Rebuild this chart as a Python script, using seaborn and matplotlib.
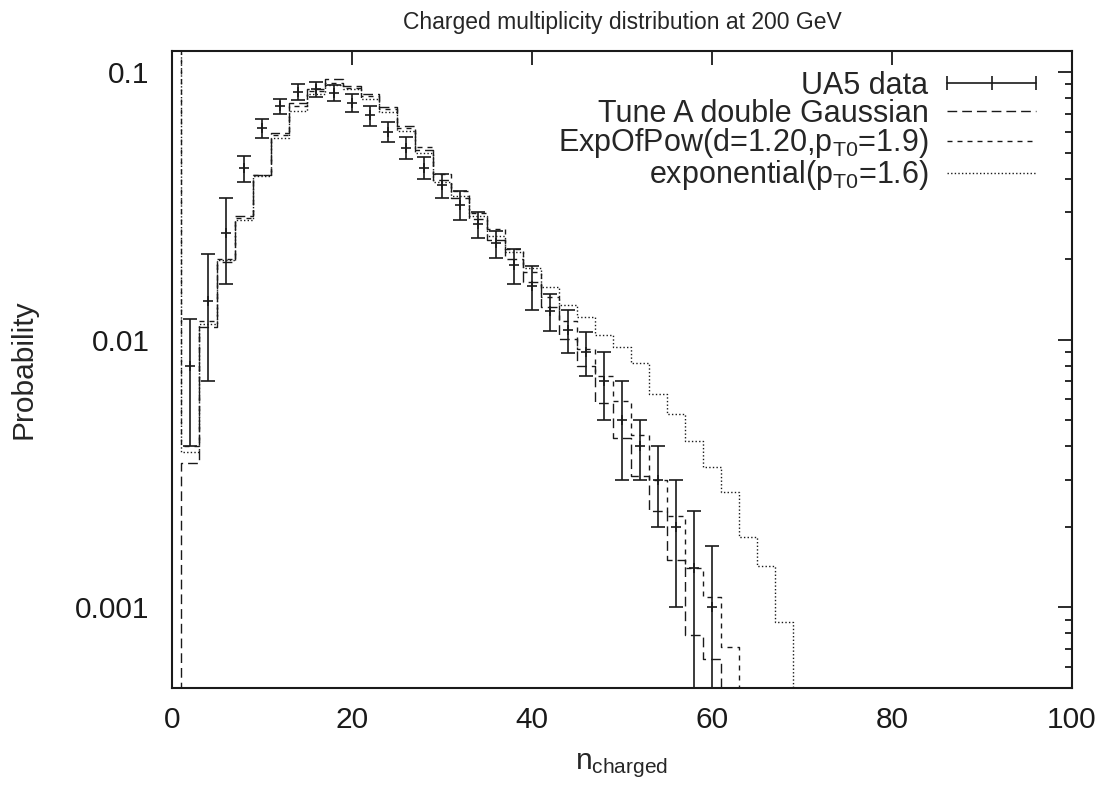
import matplotlib
matplotlib.use('Agg')
import matplotlib.pyplot as plt
import seaborn as sns
import pandas as pd
from matplotlib.lines import Line2D
from matplotlib.legend_handler import HandlerLine2D

# --- values ---
bins_n = list(range(0, 72, 2))

tune_a = [1e-6, 0.00345, 0.0112, 0.0196, 0.0289, 0.0414, 0.0590, 0.0769,
          0.0862, 0.0940, 0.0889, 0.0832, 0.0742, 0.0632, 0.0510, 0.0395,
          0.0339, 0.0282, 0.0237, 0.0200, 0.0165, 0.0133, 0.0101, 0.0080,
          0.0058, 0.0043, 0.0031, 0.0023, 0.0015, 0.00079, 0.00064, 1e-6,
          1e-6, 1e-6, 1e-6, 1e-6]

exp_of_pow = [1.0, 0.0040, 0.0118, 0.0201, 0.0285, 0.0412, 0.0580, 0.0750,
              0.0850, 0.0912, 0.0875, 0.0815, 0.0730, 0.0620, 0.0526, 0.0418,
              0.0359, 0.0298, 0.0259, 0.0219, 0.0179, 0.0145, 0.0118, 0.0092,
              0.0073, 0.0059, 0.0044, 0.0030, 0.0022, 0.0014, 0.00109, 0.00071,
              1e-6, 1e-6, 1e-6, 1e-6]

exponential = [1.0, 0.0038, 0.0115, 0.0198, 0.0281, 0.0410, 0.0566, 0.0716,
               0.0832, 0.0894, 0.0862, 0.0793, 0.0712, 0.0602, 0.0497, 0.0388,
               0.0345, 0.0290, 0.0245, 0.0212, 0.0185, 0.0158, 0.0135, 0.0122,
               0.0104, 0.0094, 0.0082, 0.0063, 0.0053, 0.0042, 0.00335, 0.0027,
               0.00184, 0.00143, 0.00088, 1e-6]

data_n = list(range(2, 62, 2))
data_p = [0.0080, 0.0140, 0.0250, 0.0439, 0.0616, 0.0746, 0.0844, 0.0866,
          0.0839, 0.0770, 0.0691, 0.0598, 0.0523, 0.0439, 0.0378, 0.0320,
          0.0270, 0.0229, 0.0190, 0.0159, 0.0128, 0.0109, 0.0090, 0.0070,
          0.0050, 0.0040, 0.0030, 0.0020, 0.0014, 0.0010]
data_err = [0.0040, 0.0070, 0.0088, 0.0049, 0.0050, 0.0048, 0.0059, 0.0056,
            0.0059, 0.0060, 0.0059, 0.0051, 0.0049, 0.0041, 0.0039, 0.0039,
            0.0029, 0.0027, 0.0029, 0.0030, 0.0020, 0.0020, 0.0017, 0.0020,
            0.0020, 0.0010, 0.0010, 0.0010, 0.0009, 0.0007]

labels = ['UA5 data', 'Tune A double Gaussian',
          r'ExpOfPow(d=1.20,$\mathrm{p_{T0}}$=1.9)',
          r'exponential($\mathrm{p_{T0}}$=1.6)']

# --- style ---
sns.set_theme(style='white')
plt.rcParams['font.family'] = ['Liberation Sans', 'DejaVu Sans']
plt.rcParams['mathtext.fontset'] = 'custom'
plt.rcParams['mathtext.rm'] = 'Liberation Sans'
plt.rcParams['mathtext.it'] = 'Liberation Sans'

TICK_FS = 21.5
LABEL_FS = 21.5
LEG_FS = 22
dash_tune = (0, (7, 3.6))
dash_eop = (0, (3.6, 3.6))
dash_exp = (0, (1, 1.6))

fig = plt.figure(figsize=(11.09, 7.94), dpi=100)
ax = fig.add_axes([0.1551, 0.1335, 0.8115, 0.8023])

models = pd.DataFrame({'n': bins_n, 'tune': tune_a, 'eop': exp_of_pow,
                       'exp': exponential})

sns.lineplot(data=models, x='n', y='tune', ax=ax, color='k', lw=1.0,
             drawstyle='steps-mid', linestyle=dash_tune)
sns.lineplot(data=models, x='n', y='eop', ax=ax, color='k', lw=1.0,
             drawstyle='steps-mid', linestyle=dash_eop)
sns.lineplot(data=models, x='n', y='exp', ax=ax, color='k', lw=1.0,
             drawstyle='steps-mid', linestyle=dash_exp)

ax.errorbar(data_n, data_p, yerr=data_err, fmt='+', color='k', ms=7,
            mew=1.2, elinewidth=1.2, capsize=4.8, capthick=1.2)

ax.set_yscale('log')
ax.set_xlim(0, 100)
ax.set_ylim(0.0005, 0.12)
ax.set_xticks([0, 20, 40, 60, 80, 100])
ax.set_yticks([0.001, 0.01, 0.1])
ax.set_yticklabels(['0.001', '0.01', '0.1'])

ax.tick_params(which='both', direction='in', top=True, right=True,
               colors='k', width=1.3)
ax.tick_params(which='major', length=10)
ax.tick_params(which='minor', length=5)
ax.tick_params(axis='x', which='major', labelsize=TICK_FS, pad=13)
ax.tick_params(axis='y', which='major', labelsize=TICK_FS, pad=16)
for sp in ax.spines.values():
    sp.set_color('k')
    sp.set_linewidth(1.5)

ax.set_xlabel(r'$\mathrm{n_{charged}}$', fontsize=LABEL_FS)
ax.set_ylabel('Probability', fontsize=LABEL_FS)
ax.xaxis.set_label_coords(0.5, -0.1)
ax.yaxis.set_label_coords(-0.150, 0.5)
ax.set_title('Charged multiplicity distribution at 200 GeV', fontsize=16.5, pad=16)

handles = [Line2D([], [], color='k', lw=1.2, marker='|', ms=10, mew=1.2),
           Line2D([], [], color='k', lw=1.0, linestyle=dash_tune),
           Line2D([], [], color='k', lw=1.0, linestyle=dash_eop),
           Line2D([], [], color='k', lw=1.0, linestyle=dash_exp)]
leg = ax.legend(handles, labels, loc='upper right', bbox_to_anchor=(0.96, 0.969),
                frameon=False, markerfirst=False, fontsize=LEG_FS, numpoints=3,
                handlelength=2.9, handletextpad=0.62, borderpad=0,
                borderaxespad=0, labelspacing=-0.07,
                handler_map={Line2D: HandlerLine2D(marker_pad=0)})
for col in leg._legend_handle_box.get_children():
    col.align = 'right'

fig.savefig('out.png', dpi=100)
